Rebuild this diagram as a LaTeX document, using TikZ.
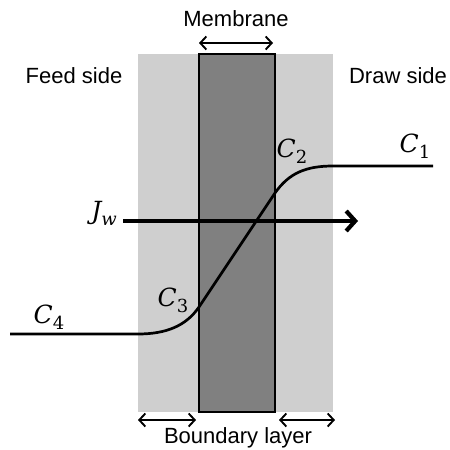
\documentclass[tikz,border=0pt]{standalone}
\usepackage{fontspec}
\setmainfont{Liberation Sans}
\newfontfamily\mathlbl{DejaVu Serif}
\usetikzlibrary{arrows.meta}
\newcommand{\cvar}[2]{{\mathlbl\itshape #1}\raisebox{-6pt}{\fontsize{18}{20}\selectfont\mathlbl #2}}
\newcommand{\cvarit}[2]{{\mathlbl\itshape #1}\raisebox{-6pt}{\fontsize{18}{20}\selectfont\mathlbl\itshape #2}}
\tikzset{
  lbl/.style={font=\fontsize{22}{26}\selectfont, inner sep=0pt},
  mlbl/.style={font=\fontsize{25}{29}\selectfont, inner sep=0pt},
  dimarrow/.style={line width=1.9pt, {Straight Barb[length=6pt,width=13pt]}-{Straight Barb[length=6pt,width=13pt]}},
}
\begin{document}
\begin{tikzpicture}[x=1pt,y=-1pt]
\useasboundingbox (0,0) rectangle (450,450);
% boundary layers
\fill[black!19] (138,54) rectangle (333,412);
% membrane
\draw[fill=black!50, line width=1.7pt] (199,54) rectangle (275,412);
\coordinate (mtl) at (199,43); \coordinate (mtr) at (273,43);
\draw[dimarrow] (mtl) -- (mtr);
\node[lbl] (mem) at (236,19) {Membrane};
\coordinate (bl1) at (138,420); \coordinate (bl2) at (196,420);
\coordinate (br1) at (279,420); \coordinate (br2) at (335,420);
\draw[dimarrow] (bl1) -- (bl2);
\draw[dimarrow] (br1) -- (br2);
\node[lbl] (bnd) at (238,438) {Boundary layer};
\node[lbl] (feed) at (74,76) {Feed side};
\node[lbl] (draw) at (398,76) {Draw side};
% concentration profile
\coordinate (c1e) at (433,166);
\coordinate (c4e) at (10,334);
\draw[line width=2.7pt] (c1e) -- (333,166) .. controls (306,166) and (289,173) .. (275,193) -- (199,307) .. controls (186,326) and (166,334) .. (138,334) -- (c4e);
\node[mlbl] (c1) at (415,146) {\cvar{C}{1}};
\node[mlbl] (c2) at (292,151) {\cvar{C}{2}};
\node[mlbl] (c3) at (173,300) {\cvar{C}{3}};
\node[mlbl] (c4) at (49,317) {\cvar{C}{4}};
% flux
\node[mlbl] (jw) at (104,213) {\cvarit{J}{w}};
\coordinate (js) at (123,221); \coordinate (je) at (358,221);
\draw[line width=4.2pt, -{Straight Barb[length=9pt,width=20pt]}] (js) -- (je);
\end{tikzpicture}
\end{document}
